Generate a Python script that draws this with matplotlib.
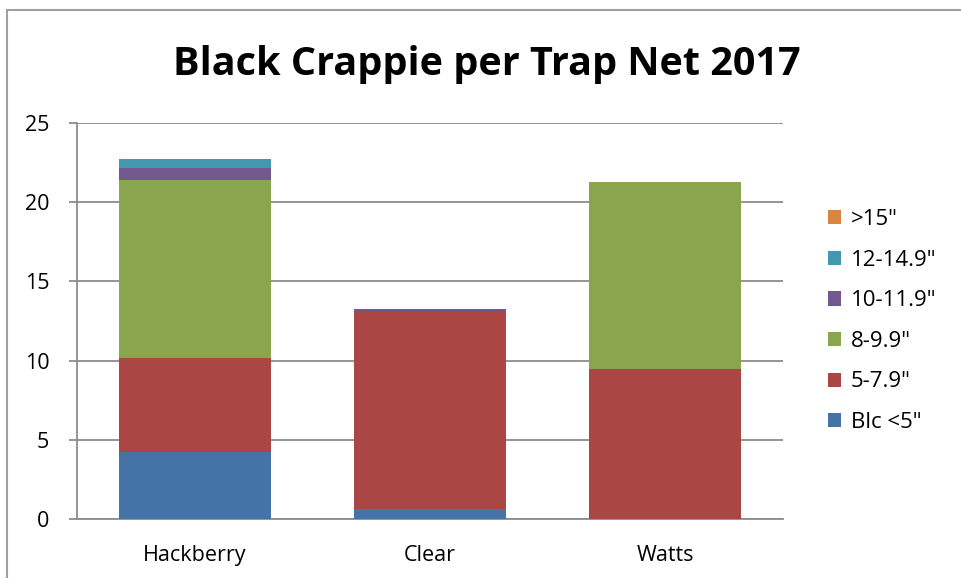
import numpy as np
import matplotlib
matplotlib.use('Agg')
import matplotlib.pyplot as plt
from matplotlib.patches import Rectangle

plt.rcParams['font.family'] = ['Open Sans', 'DejaVu Sans']

lakes = ['Hackberry', 'Clear', 'Watts']
size_classes = ['Blc <5"', '5-7.9"', '8-9.9"', '10-11.9"', '12-14.9"', '>15"']
blc_lt5 = [4.25, 0.63, 0.0]
s5_7 = [5.93, 12.52, 9.48]
s8_9 = [11.25, 0.0, 11.78]
s10_11 = [0.76, 0.14, 0.0]
s12_14 = [0.52, 0.0, 0.0]
s15_up = [0.0, 0.0, 0.0]
colors = ['#4572a7', '#aa4643', '#89a54e', '#71588f', '#4198af', '#db843d']

series = [blc_lt5, s5_7, s8_9, s10_11, s12_14, s15_up]

fig = plt.figure(figsize=(9.62, 5.78), dpi=100)
ax = fig.add_axes([0.080, 0.102, 0.734, 0.685])

# outer chart border
fig.patches.append(Rectangle((7 / 962, -0.01), 1.0, 1 - 10 / 578 + 0.01,
                             transform=fig.transFigure, fill=False,
                             edgecolor='#a0a0a0', linewidth=1.5))

x = np.arange(len(lakes))
bottom = np.zeros(len(lakes))
handles = []
for vals, lab, col in zip(series, size_classes, colors):
    h = ax.bar(x, vals, width=0.645, bottom=bottom, color=col, label=lab,
               edgecolor='none', zorder=3)
    handles.append(h)
    bottom += np.array(vals)

ax.set_xlim(-0.5, 2.5)
ax.set_ylim(0, 25)
ax.set_yticks([0, 5, 10, 15, 20, 25])
ax.set_xticks(x)
ax.set_xticklabels(lakes)
ax.grid(axis='y', color='#8c8c8c', linewidth=1.3, zorder=0)
for s in ['top', 'right']:
    ax.spines[s].set_visible(False)
for s in ['left', 'bottom']:
    ax.spines[s].set_color('#8c8c8c')
    ax.spines[s].set_linewidth(1.3)
ax.tick_params(axis='y', length=6, color='#8c8c8c', width=1.3, labelsize=15.5, pad=14)
ax.tick_params(axis='x', length=0, labelsize=15.5, pad=19)

fig.text(0.506, 0.889, 'Black Crappie per Trap Net 2017', ha='center', va='center',
         fontsize=28.5, fontweight='bold')

leg = ax.legend(handles[::-1], size_classes[::-1], loc='center left',
                bbox_to_anchor=(1.035, 0.5), frameon=False, fontsize=16,
                handlelength=0.6, handleheight=0.6, labelspacing=0.88,
                handletextpad=0.45)

fig.savefig('out.png', dpi=100)
